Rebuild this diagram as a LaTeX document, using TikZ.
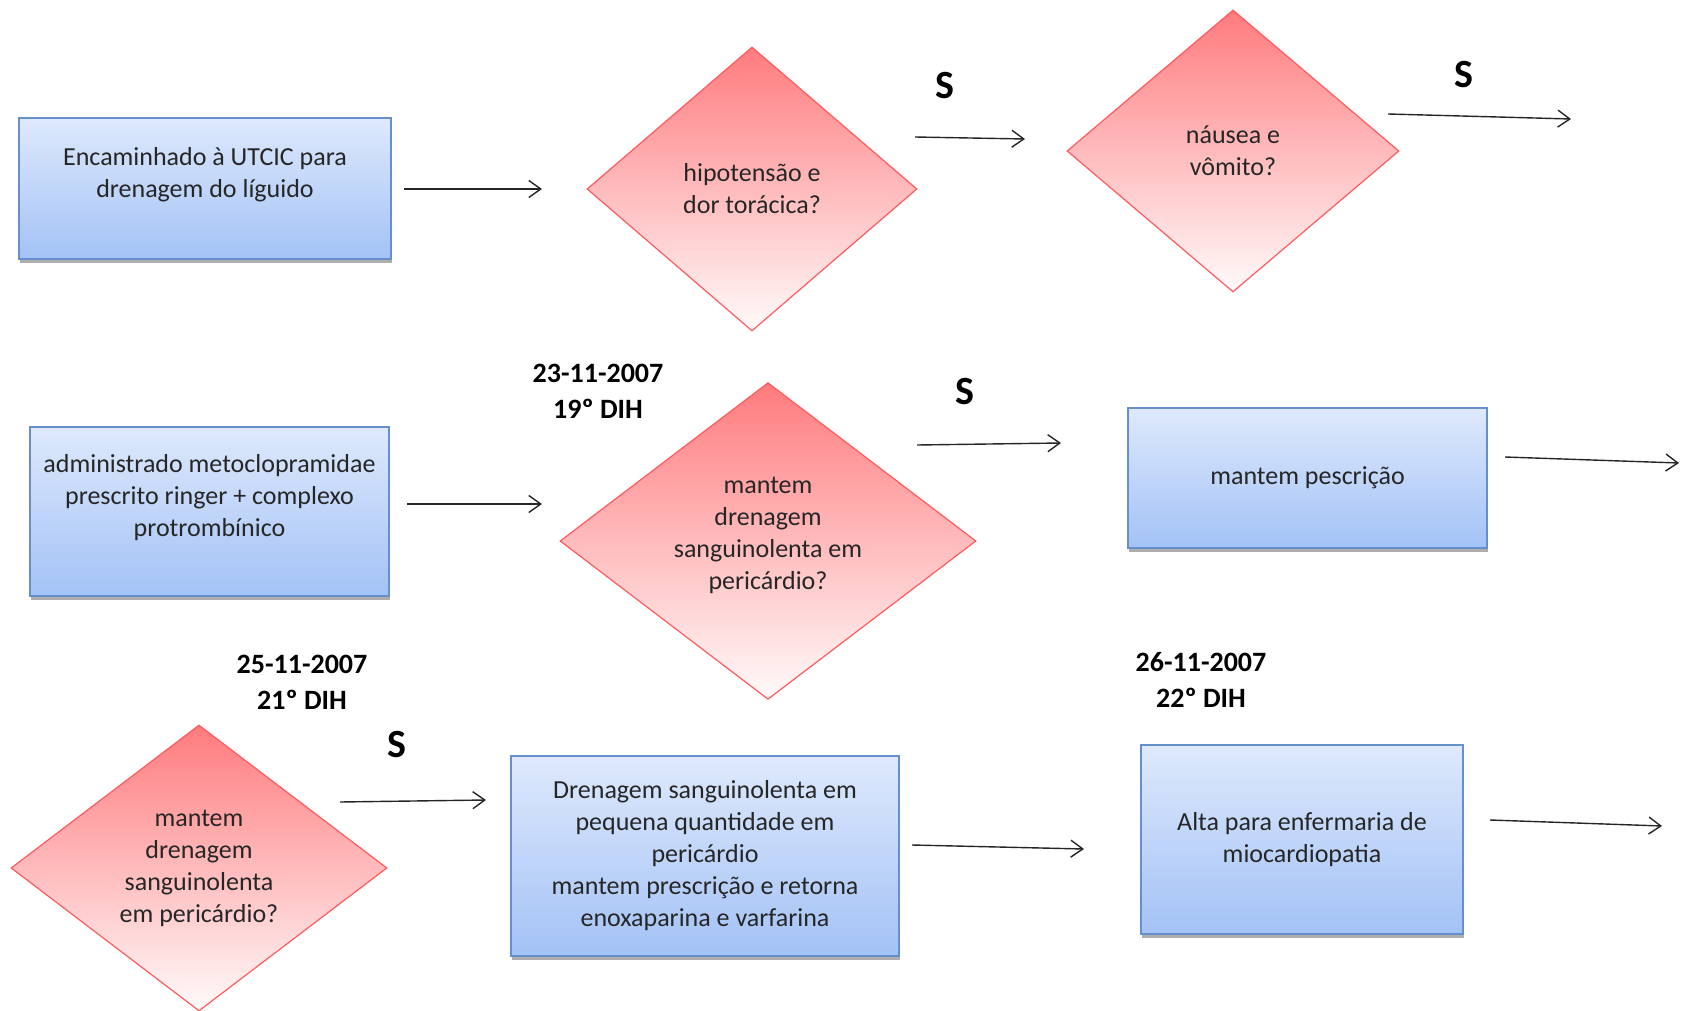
\documentclass[tikz,border=0pt]{standalone}
\usepackage{fontspec}
\setmainfont{Carlito}
\usetikzlibrary{shapes.geometric,arrows.meta,shadows}

\definecolor{boxtop}{HTML}{DEE9FC}
\definecolor{boxbot}{HTML}{A3C2F6}
\definecolor{boxline}{HTML}{6690CC}
\definecolor{diatop}{HTML}{FF7B7E}
\definecolor{diabot}{HTML}{FFFAFA}
\definecolor{dialine}{HTML}{FF5A5C}
\definecolor{ink}{HTML}{262626}

\tikzset{
  stepbox/.style={rectangle, draw=boxline, line width=1.2pt,
    top color=boxtop, bottom color=boxbot, align=center, text=ink,
    inner sep=2pt, font=\fontsize{26}{32}\selectfont,
    drop shadow={shadow xshift=1pt, shadow yshift=-4pt, fill=black!45, opacity=0.7}},
  question/.style={diamond, draw=dialine, line width=1.2pt,
    top color=diatop, bottom color=diabot, align=center, text=ink,
    inner sep=0pt, font=\fontsize{26}{32}\selectfont},
  flow/.style={line width=1.4pt, draw=black!85,
    -{Straight Barb[length=12pt,width=17pt,line width=1.4pt]}},
  yes/.style={font=\bfseries\fontsize{40}{44}\selectfont, text=black},
  datelabel/.style={font=\bfseries\fontsize{28}{36}\selectfont, align=center, text=black}
}

\begin{document}
\begin{tikzpicture}[x=1pt, y=-1pt]
  \useasboundingbox (0,0) rectangle (1681,1011);

  % first row
  \node[stepbox, minimum width=372pt, minimum height=141pt] (enc) at (205,188.5)
    {Encaminhado à UTCIC para\\drenagem do líguido\\\phantom{x}};
  \node[question, minimum width=330pt, minimum height=284pt] (hipo) at (752,189)
    {hipotensão e\\dor torácica?};
  \node[question, minimum width=332pt, minimum height=282pt] (naus) at (1233,151)
    {náusea e\\vômito?};

  % second row
  \node[stepbox, minimum width=359pt, minimum height=169pt] (adm) at (209.5,511.5)
    {administrado metoclopramidae\\prescrito ringer + complexo\\protrombínico\\\phantom{x}};
  \node[datelabel] (d19) at (598,391) {23-11-2007\\19º DIH};
  \node[question, minimum width=416pt, minimum height=310pt] (dren1) at (768,541)
    {mantem\\drenagem\\sanguinolenta em\\pericárdio?\\[-16pt]\phantom{x}};
  \node[stepbox, minimum width=359pt, minimum height=140pt] (presc) at (1307.5,478)
    {mantem pescrição};

  % third row
  \node[datelabel] (d21) at (302,682) {25-11-2007\\21º DIH};
  \node[question, minimum width=376pt, minimum height=286pt] (dren2) at (199,868)
    {mantem\\drenagem\\sanguinolenta\\em pericárdio?};
  \node[stepbox, minimum width=388pt, minimum height=200pt] (peq) at (705,856)
    {Drenagem sanguinolenta em\\pequena quantidade em\\pericárdio\\mantem prescrição e retorna\\enoxaparina e varfarina};
  \node[datelabel] (d22) at (1201,680) {26-11-2007\\22º DIH};
  \node[stepbox, minimum width=322pt, minimum height=189pt] (alta) at (1302,839.5)
    {Alta para enfermaria de\\miocardiopatia};

  % connector end points
  \coordinate (a1s) at (404,189);  \coordinate (a1e) at (542,189);
  \coordinate (a2s) at (915,137);  \coordinate (a2e) at (1025,139);
  \coordinate (a3s) at (1388,114); \coordinate (a3e) at (1571,119);
  \coordinate (a4s) at (407,504);  \coordinate (a4e) at (542,504);
  \coordinate (a5s) at (917,445);  \coordinate (a5e) at (1061,443);
  \coordinate (a6s) at (1505,457); \coordinate (a6e) at (1679,463);
  \coordinate (a7s) at (340,802);  \coordinate (a7e) at (486,800);
  \coordinate (a8s) at (912,845);  \coordinate (a8e) at (1084,849);
  \coordinate (a9s) at (1490,820); \coordinate (a9e) at (1662,826);

  \draw[flow] (a1s) -- (a1e);
  \draw[flow] (a2s) -- (a2e);
  \draw[flow] (a3s) -- (a3e);
  \draw[flow] (a4s) -- (a4e);
  \draw[flow] (a5s) -- (a5e);
  \draw[flow] (a6s) -- (a6e);
  \draw[flow] (a7s) -- (a7e);
  \draw[flow] (a8s) -- (a8e);
  \draw[flow] (a9s) -- (a9e);

  % "yes" labels
  \node[yes] (s1) at (945,86) {S};
  \node[yes] (s2) at (1464,75) {S};
  \node[yes] (s3) at (965,392) {S};
  \node[yes] (s4) at (397,745) {S};
\end{tikzpicture}
\end{document}
